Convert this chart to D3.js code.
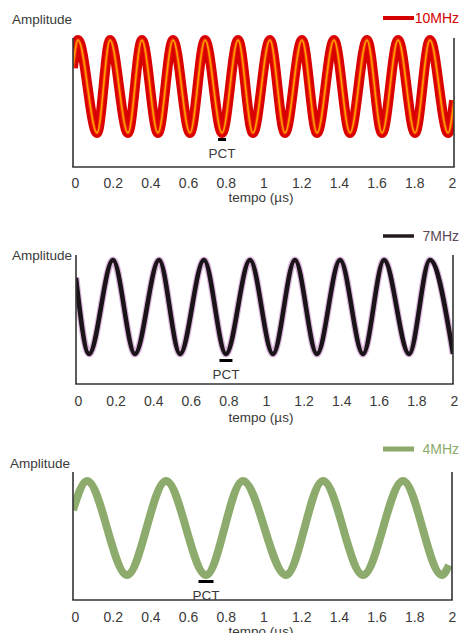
<!DOCTYPE html>
<html>
<head>
<meta charset="utf-8">
<script src="https://cdn.jsdelivr.net/npm/d3@7/dist/d3.min.js"></script>
<style>
  html, body { margin: 0; padding: 0; background: #fff; }
  svg { display: block; font-family: "Liberation Sans", Arial, sans-serif; }
  text { fill: #3a3a3a; }
</style>
</head>
<body>
<svg id="chart" width="461" height="633"></svg>
<script>
// extrema of each trace (time in µs, amplitude -1..1)
const t10 = [-0.011, 0.016, 0.117, 0.186, 0.281, 0.355, 0.440, 0.520, 0.610, 0.690, 0.780, 0.865, 0.944,
             1.034, 1.114, 1.204, 1.284, 1.374, 1.459, 1.549, 1.629, 1.714, 1.804, 1.883, 1.979, 2.011];
const a10 = [0.40, 1, -1, 1, -1, 1, -1, 1, -1, 1, -1, 1, -1,
             1, -1, 1, -1, 1, -1, 1, -1, 1, -1, 1, -1, -0.30];

const t7 = [-0.011, 0.059, 0.186, 0.303, 0.431, 0.543, 0.670, 0.787, 0.915, 1.037, 1.154, 1.271,
            1.394, 1.516, 1.628, 1.761, 1.872, 1.995];
const a7 = [0.62, -1, 1, -1, 1, -1, 1, -1, 1, -1, 1, -1,
            1, -1, 1, -1, 1, -1];

const t4 = [-0.011, 0.064, 0.276, 0.483, 0.695, 0.891, 1.119, 1.316, 1.528, 1.740, 1.947, 1.984];
const a4 = [0.38, 1, -1, 1, -1, 1, -1, 1, -1, 1, -1, -0.79];

const tickValues = [0, 0.2, 0.4, 0.6, 0.8, 1, 1.2, 1.4, 1.6, 1.8, 2];
const labels = ['10MHz', '7MHz', '4MHz'];
const pctTimes = [0.78, 0.787, 0.695];

// layout of the three stacked panels (pixels)
const panels = [
  { t: t10, a: a10, label: labels[0], pct: pctTimes[0], left: 73, right: 454, top: 38, bottom: 167,
    x0: 75, x2: 452, yHi: 40, yLo: 133, tickY: 183, titleY: 197, ampY: 19, legY: 18, pctW: 8,
    legColor: '#d40000', legText: '#d40000', legW: 4 },
  { t: t7, a: a7, label: labels[1], pct: pctTimes[1], left: 76, right: 453, top: 255, bottom: 384,
    x0: 78, x2: 454, yHi: 260, yLo: 354, tickY: 401, titleY: 417, ampY: 255, legY: 236, pctW: 13,
    legColor: '#231a20', legText: '#5e4858', legW: 3.5 },
  { t: t4, a: a4, label: labels[2], pct: pctTimes[2], left: 73, right: 452, top: 472, bottom: 600,
    x0: 75, x2: 452, yHi: 481, yLo: 575, tickY: 617, titleY: 631, ampY: 463, legY: 449, pctW: 15,
    legColor: '#8dab6c', legText: '#8dab6c', legW: 5 }
];

// stacked strokes give each trace its look: red with a thin orange/yellow core, black with a pink halo, plain green
const strokes = [
  [{ c: '#d80000', w: 10 }, { c: '#ec2400', w: 4 }, { c: '#ff7000', w: 2 }, { c: '#ffb400', w: 0.8 }],
  [{ c: '#dcb7dc', w: 7 }, { c: '#1a1418', w: 4.6 }],
  [{ c: '#8dab6c', w: 8 }]
];

const svg = d3.select('#chart');
const defs = svg.append('defs');

panels.forEach((p, i) => {
  const x = d3.scaleLinear().domain([0, 2]).range([p.x0, p.x2]);
  const y = d3.scaleLinear().domain([-1, 1]).range([p.yLo, p.yHi]);
  const g = svg.append('g');

  // clip the trace to the frame width so its ends stop at the axes
  defs.append('clipPath').attr('id', 'clip' + i).append('rect')
    .attr('x', p.left).attr('y', 0).attr('width', p.right - p.left).attr('height', 633);

  // trace
  const pts = p.t.map((t, k) => [t, p.a[k]]);
  const line = d3.line().x(d => x(d[0])).y(d => y(d[1])).curve(d3.curveMonotoneX);
  const tr = g.append('g').attr('clip-path', 'url(#clip' + i + ')');
  strokes[i].forEach(s => {
    tr.append('path').attr('d', line(pts)).attr('fill', 'none')
      .attr('stroke', s.c).attr('stroke-width', s.w)
      .attr('stroke-linecap', 'butt').attr('stroke-linejoin', 'round');
  });

  // frame: left, right, bottom (no top)
  const frame = g.append('g').attr('stroke', '#333').attr('stroke-width', 1.6);
  frame.append('line').attr('x1', p.left).attr('x2', p.left).attr('y1', p.top).attr('y2', p.bottom);
  frame.append('line').attr('x1', p.right).attr('x2', p.right).attr('y1', p.top).attr('y2', p.bottom);
  frame.append('line').attr('x1', p.left - 0.8).attr('x2', p.right + 0.8).attr('y1', p.bottom).attr('y2', p.bottom);

  // x ticks
  const ax = g.append('g').attr('transform', 'translate(0,' + p.tickY + ')')
    .call(d3.axisBottom(x).tickValues(tickValues).tickSize(0).tickFormat(d3.format('~g')));
  ax.select('.domain').remove();
  ax.selectAll('text').attr('dy', '0.35em').attr('y', 0)
    .style('font-size', '14px').style('font-family', '"Liberation Sans", Arial, sans-serif').attr('fill', '#3a3a3a');

  g.append('text').attr('x', 261).attr('y', p.titleY).attr('dy', '0.35em')
    .attr('text-anchor', 'middle').style('font-size', '13.5px').text('tempo (µs)');

  g.append('text').attr('x', 12 - (i === 2 ? 2 : 0)).attr('y', p.ampY).attr('dy', '0.35em')
    .style('font-size', '13.5px').text('Amplitude');

  // PCT marker below the trough
  const px = x(p.pct);
  g.append('rect').attr('x', px - p.pctW / 2).attr('y', y(-1) + 5).attr('width', p.pctW).attr('height', 3)
    .attr('fill', '#000');
  g.append('text').attr('x', px).attr('y', y(-1) + 20).attr('dy', '0.35em')
    .attr('text-anchor', 'middle').style('font-size', '13.5px').text('PCT');

  // legend
  g.append('line').attr('x1', 383).attr('x2', 414).attr('y1', p.legY).attr('y2', p.legY)
    .attr('stroke', p.legColor).attr('stroke-width', p.legW);
  g.append('text').attr('x', 459).attr('y', p.legY).attr('dy', '0.35em').attr('text-anchor', 'end')
    .style('font-size', '14px').style('fill', p.legText).text(p.label);
});
</script>
</body>
</html>
